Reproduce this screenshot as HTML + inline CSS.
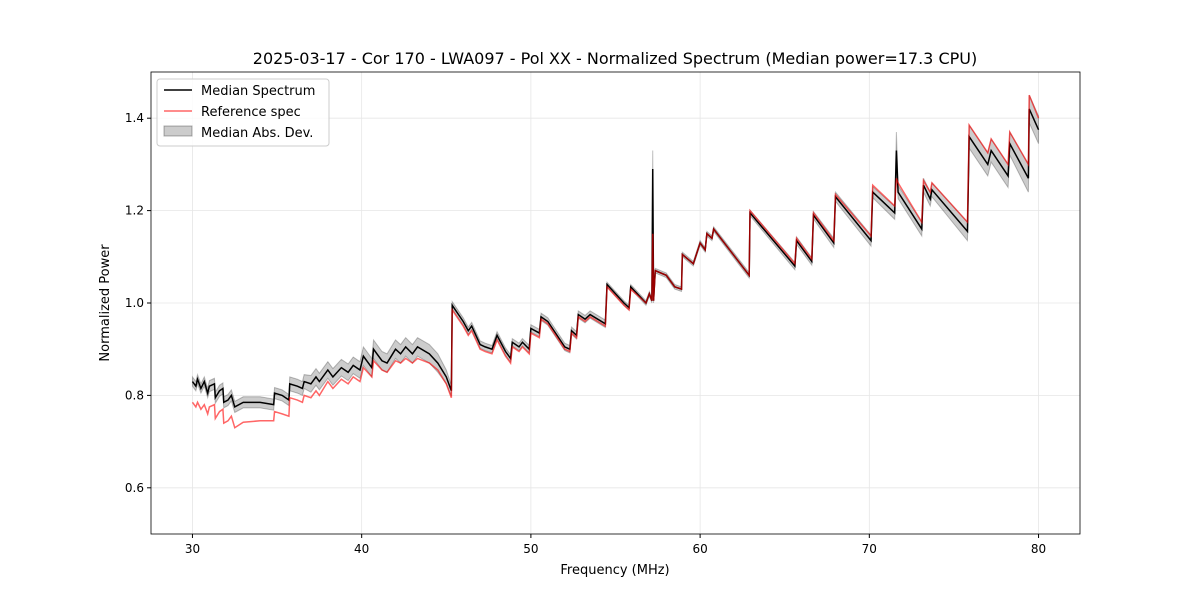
<!DOCTYPE html>
<html><head><meta charset="utf-8"><style>
body{margin:0;background:#fff;font-family:"Liberation Sans","DejaVu Sans",sans-serif}
svg text{font-family:"DejaVu Sans","Liberation Sans",sans-serif}
</style></head><body>
<svg id="c" width="1200" height="600" xmlns="http://www.w3.org/2000/svg"></svg>
<script>
const freqs=[30.0,30.2,30.3,30.5,30.7,30.9,31.0,31.3,31.35,31.6,31.8,31.85,32.1,32.3,32.5,33.0,34.0,34.8,34.85,35.3,35.7,35.75,36.2,36.5,36.6,37.0,37.3,37.5,38.0,38.3,38.8,39.2,39.5,39.9,40.1,40.6,40.7,41.2,41.5,42.0,42.3,42.6,43.0,43.3,44.0,44.5,45.0,45.3,45.35,46.0,46.3,46.5,47.0,47.3,47.7,48.0,48.5,48.8,48.9,49.3,49.5,49.9,50.0,50.5,50.6,51.0,52.0,52.3,52.4,52.7,52.8,53.2,53.5,54.4,54.5,55.5,55.8,55.9,56.8,57.0,57.15,57.2,57.25,57.35,58.0,58.5,58.9,58.95,59.6,60.0,60.3,60.4,60.7,60.8,62.9,62.95,65.6,65.7,66.6,66.7,67.9,68.0,70.1,70.2,71.5,71.6,71.7,73.1,73.2,73.6,73.7,75.8,75.9,77.0,77.2,78.2,78.3,79.4,79.45,80.0];
const median=[.830,.820,.835,.815,.830,.805,.820,.825,.795,.810,.815,.785,.790,.800,.775,.785,.785,.780,.805,.800,.790,.825,.820,.815,.830,.825,.840,.830,.855,.840,.860,.850,.865,.855,.885,.860,.900,.875,.870,.900,.890,.905,.890,.905,.890,.870,.840,.810,.995,.960,.940,.950,.910,.905,.900,.930,.895,.880,.915,.905,.915,.900,.945,.935,.970,.960,.905,.900,.940,.930,.975,.965,.975,.955,1.040,1.000,.990,1.035,1.000,1.020,1.005,1.290,1.005,1.070,1.060,1.035,1.030,1.105,1.085,1.130,1.115,1.150,1.140,1.160,1.060,1.195,1.080,1.135,1.090,1.190,1.130,1.230,1.135,1.240,1.195,1.330,1.240,1.160,1.255,1.225,1.245,1.155,1.360,1.300,1.330,1.275,1.345,1.270,1.420,1.375];
const reference=[.785,.775,.785,.770,.780,.760,.775,.780,.750,.765,.770,.740,.745,.755,.730,.742,.745,.745,.765,.760,.755,.795,.790,.785,.800,.795,.810,.800,.830,.815,.835,.825,.840,.830,.860,.840,.875,.855,.850,.875,.870,.880,.870,.880,.870,.855,.825,.795,.985,.950,.930,.940,.900,.895,.890,.920,.885,.870,.905,.895,.905,.890,.935,.925,.965,.955,.900,.895,.935,.925,.970,.960,.970,.950,1.035,.995,.985,1.030,1.000,1.020,1.005,1.150,1.005,1.070,1.060,1.035,1.030,1.105,1.085,1.130,1.115,1.150,1.140,1.160,1.060,1.200,1.085,1.140,1.095,1.195,1.135,1.235,1.145,1.255,1.210,1.270,1.260,1.175,1.265,1.240,1.260,1.175,1.385,1.325,1.355,1.300,1.370,1.300,1.450,1.400];
const mad=[.010,.010,.010,.010,.010,.010,.012,.012,.012,.012,.012,.012,.012,.012,.012,.012,.012,.012,.012,.012,.012,.015,.015,.015,.015,.018,.018,.018,.018,.018,.018,.018,.018,.018,.020,.020,.020,.020,.020,.020,.020,.020,.020,.020,.020,.020,.015,.012,.008,.008,.008,.008,.008,.008,.008,.008,.008,.008,.008,.008,.008,.008,.008,.008,.008,.008,.008,.008,.008,.008,.008,.008,.008,.008,.005,.005,.005,.005,.005,.005,.005,.040,.005,.005,.005,.005,.005,.005,.005,.005,.005,.005,.005,.005,.006,.006,.008,.008,.008,.008,.010,.010,.012,.012,.014,.040,.014,.015,.015,.015,.015,.020,.025,.025,.025,.025,.025,.030,.030,.030];
const xTicks=[30,40,50,60,70,80];
const yTicks=[0.6,0.8,1.0,1.2,1.4];
const L=151,R=1080,T=72,B=534,X0=27.55,X1=82.45,Y0=0.5,Y1=1.5;
const sx=v=>L+(v-X0)/(X1-X0)*(R-L), sy=v=>B-(v-Y0)/(Y1-Y0)*(B-T);
const svg=document.getElementById('c');const NS='http://www.w3.org/2000/svg';
function mk(t,a,p){const e=document.createElementNS(NS,t);for(const k in a)e.setAttribute(k,a[k]);(p||svg).appendChild(e);return e;}
const g=mk('g',{});


xTicks.forEach(v=>{mk('line',{x1:sx(v),x2:sx(v),y1:T,y2:B,stroke:'#e6e6e6','stroke-width':0.8},g);
 const t=mk('line',{x1:sx(v),x2:sx(v),y1:B,y2:B+4,stroke:'#000'});
 const l=mk('text',{x:sx(v),y:B+19,'text-anchor':'middle','font-size':12});l.textContent=v;
 
 });
yTicks.forEach(v=>{mk('line',{x1:L,x2:R,y1:sy(v),y2:sy(v),stroke:'#e6e6e6','stroke-width':0.8},g);
 mk('line',{x1:L-4,x2:L,y1:sy(v),y2:sy(v),stroke:'#000'});
 const l=mk('text',{x:L-7,y:sy(v)+4,'text-anchor':'end','font-size':12});l.textContent=v.toFixed(1);
 
 });
let up=freqs.map((f,i)=>sx(f)+','+sy(median[i]+mad[i])).join(' ');
let dn=freqs.map((f,i)=>sx(f)+','+sy(median[i]-mad[i])).reverse().join(' ');
const band=mk('polygon',{points:up+' '+dn,fill:'rgba(0,0,0,0.2)',stroke:'rgba(0,0,0,0.25)','stroke-width':1});


const ml=mk('polyline',{points:freqs.map((f,i)=>sx(f)+','+sy(median[i])).join(' '),fill:'none',stroke:'#000','stroke-width':1.5});


const rl=mk('polyline',{points:freqs.map((f,i)=>sx(f)+','+sy(reference[i])).join(' '),fill:'none',stroke:'rgba(255,0,0,0.6)','stroke-width':1.5});


const fr=mk('rect',{x:L,y:T,width:R-L,height:B-T,fill:'none',stroke:'#000','stroke-width':0.8});


</script>
<svg width="1200" height="600" style="position:absolute;left:0;top:0" xmlns="http://www.w3.org/2000/svg">
<text x="615" y="64" text-anchor="middle" font-size="16">2025-03-17 - Cor 170 - LWA097 - Pol XX - Normalized Spectrum (Median power=17.3 CPU)</text>
<text x="615" y="574" text-anchor="middle" font-size="13">Frequency (MHz)</text>
<text transform="translate(109,303) rotate(-90)" text-anchor="middle" font-size="13">Normalized Power</text>
<g>
<rect x="157" y="79" width="172" height="67" rx="3" fill="rgba(255,255,255,0.8)" stroke="#ccc"/>
<line x1="164" x2="192" y1="90" y2="90" stroke="#000" stroke-width="1.5"/>
<text x="201" y="95" font-size="13">Median Spectrum</text>
<line x1="164" x2="192" y1="111" y2="111" stroke="rgba(255,0,0,0.6)" stroke-width="1.5"/>
<text x="201" y="116" font-size="13">Reference spec</text>
<rect x="164" y="126" width="28" height="10" fill="rgba(0,0,0,0.2)" stroke="rgba(0,0,0,0.3)"/>
<text x="201" y="137" font-size="13">Median Abs. Dev.</text>
</g>
</svg>
<script>document.body.style.position='relative';</script>
</body></html>
